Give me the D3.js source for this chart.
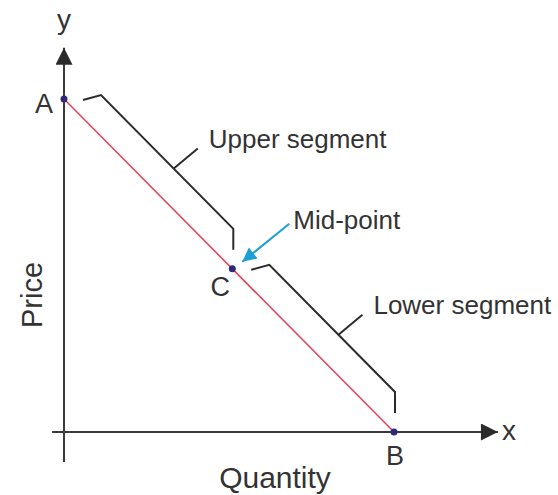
<!DOCTYPE html>
<html>
<head>
<meta charset="utf-8">
<script src="https://cdn.jsdelivr.net/npm/d3@7"></script>
<style>
  body { margin: 0; background: #fff; }
  text { font-family: "Liberation Sans", Arial, sans-serif; fill: #333; }
</style>
</head>
<body>
<div id="wrapper"></div>
<script>
// demand line points (quantity, price)
const pointNames = ["A", "C", "B"];
const quantities = [0, 5.1, 10];
const prices = [10, 4.9, 0];

// annotation texts
const axisTitles = ["Quantity", "Price"];
const axisNames = ["x", "y"];
const segmentLabels = ["Upper segment", "Lower segment"];
const midLabel = "Mid-point";

const points = pointNames.map((n, i) => ({ name: n, q: quantities[i], p: prices[i] }));

const dimension = { width: 558, height: 495 };

const svg = d3.select("#wrapper").append("svg")
    .attr("width", dimension.width)
    .attr("height", dimension.height);

const xScaler = d3.scaleLinear().domain([0, 10]).range([64, 394]);
const yScaler = d3.scaleLinear().domain([0, 10]).range([432, 99]);

const defs = svg.append("defs");
defs.append("marker")
    .attr("id", "axisHead")
    .attr("viewBox", "0 0 10 10")
    .attr("refX", 10).attr("refY", 5)
    .attr("markerWidth", 19).attr("markerHeight", 17)
    .attr("markerUnits", "userSpaceOnUse")
    .attr("orient", "auto")
    .append("path").attr("d", "M0,0 L10,5 L0,10 Z").attr("fill", "#2b2b2b");
defs.append("marker")
    .attr("id", "blueHead")
    .attr("viewBox", "0 0 10 10")
    .attr("refX", 10).attr("refY", 5)
    .attr("markerWidth", 16).attr("markerHeight", 14)
    .attr("markerUnits", "userSpaceOnUse")
    .attr("orient", "auto")
    .append("path").attr("d", "M0,0 L10,5 L0,10 Z").attr("fill", "#1e9fd4");

// axes
svg.append("line")
    .attr("x1", xScaler(-0.36)).attr("x2", xScaler(13.15))
    .attr("y1", yScaler(0)).attr("y2", yScaler(0))
    .attr("stroke", "#3a3a3a").attr("stroke-width", 2)
    .attr("marker-end", "url(#axisHead)");
svg.append("line")
    .attr("x1", xScaler(0)).attr("x2", xScaler(0))
    .attr("y1", yScaler(-0.9)).attr("y2", yScaler(11.54))
    .attr("stroke", "#3a3a3a").attr("stroke-width", 2)
    .attr("marker-end", "url(#axisHead)");

svg.append("text").text(axisNames[0])
    .attr("x", xScaler(13.15) + 4).attr("y", yScaler(0) + 8)
    .attr("font-size", 28);
svg.append("text").text(axisNames[1])
    .attr("x", xScaler(0)).attr("y", 29)
    .attr("text-anchor", "middle").attr("font-size", 28);

svg.append("text").text(axisTitles[0])
    .attr("x", 275).attr("y", 488)
    .attr("text-anchor", "middle").attr("font-size", 30);
svg.append("text").text(axisTitles[1])
    .attr("transform", "translate(42,295) rotate(-90)")
    .attr("text-anchor", "middle").attr("font-size", 29);

// demand line
const lineGenerator = d3.line()
    .x(d => xScaler(d.q))
    .y(d => yScaler(d.p));
svg.append("path")
    .datum([points[0], points[2]])
    .attr("d", lineGenerator)
    .attr("fill", "none")
    .attr("stroke", "#e2475d")
    .attr("stroke-width", 1.6);

// brackets between consecutive points
function bracket(from, to, label, tickT) {
    const x0 = xScaler(from.q), y0 = yScaler(from.p);
    const x1 = xScaler(to.q), y1 = yScaler(to.p);
    const c1 = [x0 + 37, y0 - 4];
    const c2 = [x1 + 1, y1 - 40];
    const path = d3.path();
    path.moveTo(x0 + 19, y0 + 1);
    path.lineTo(c1[0], c1[1]);
    path.lineTo(c2[0], c2[1]);
    path.lineTo(c2[0], y1 - 19);
    svg.append("path").attr("d", path.toString())
        .attr("fill", "none").attr("stroke", "#2b2b2b").attr("stroke-width", 2);
    const tx = c1[0] + (c2[0] - c1[0]) * tickT;
    const ty = c1[1] + (c2[1] - c1[1]) * tickT;
    svg.append("line")
        .attr("x1", tx).attr("y1", ty)
        .attr("x2", tx + 24).attr("y2", ty - 20)
        .attr("stroke", "#2b2b2b").attr("stroke-width", 2);
    svg.append("text").text(label)
        .attr("x", tx + 35).attr("y", ty - 21)
        .attr("font-size", 26);
}
bracket(points[0], points[1], segmentLabels[0], 0.55);
bracket(points[1], points[2], segmentLabels[1], 0.55);

// mid-point arrow
const cx = xScaler(points[1].q), cy = yScaler(points[1].p);
svg.append("line")
    .attr("x1", cx + 57).attr("y1", cy - 45)
    .attr("x2", cx + 10).attr("y2", cy - 7)
    .attr("stroke", "#1e9fd4").attr("stroke-width", 2)
    .attr("marker-end", "url(#blueHead)");
svg.append("text").text(midLabel)
    .attr("x", cx + 61).attr("y", cy - 40)
    .attr("font-size", 26);

// points and their letters
svg.selectAll("circle.pt").data(points).join("circle")
    .attr("class", "pt")
    .attr("cx", d => xScaler(d.q))
    .attr("cy", d => yScaler(d.p))
    .attr("r", 3.5)
    .attr("fill", "#2e2a7a");

const letterOffset = { A: [-20, 14], C: [-12, 27], B: [1, 33] };
svg.selectAll("text.pt").data(points).join("text")
    .attr("class", "pt")
    .attr("x", d => xScaler(d.q) + letterOffset[d.name][0])
    .attr("y", d => yScaler(d.p) + letterOffset[d.name][1])
    .attr("text-anchor", "middle")
    .attr("font-size", 27)
    .text(d => d.name);
</script>
</body>
</html>
